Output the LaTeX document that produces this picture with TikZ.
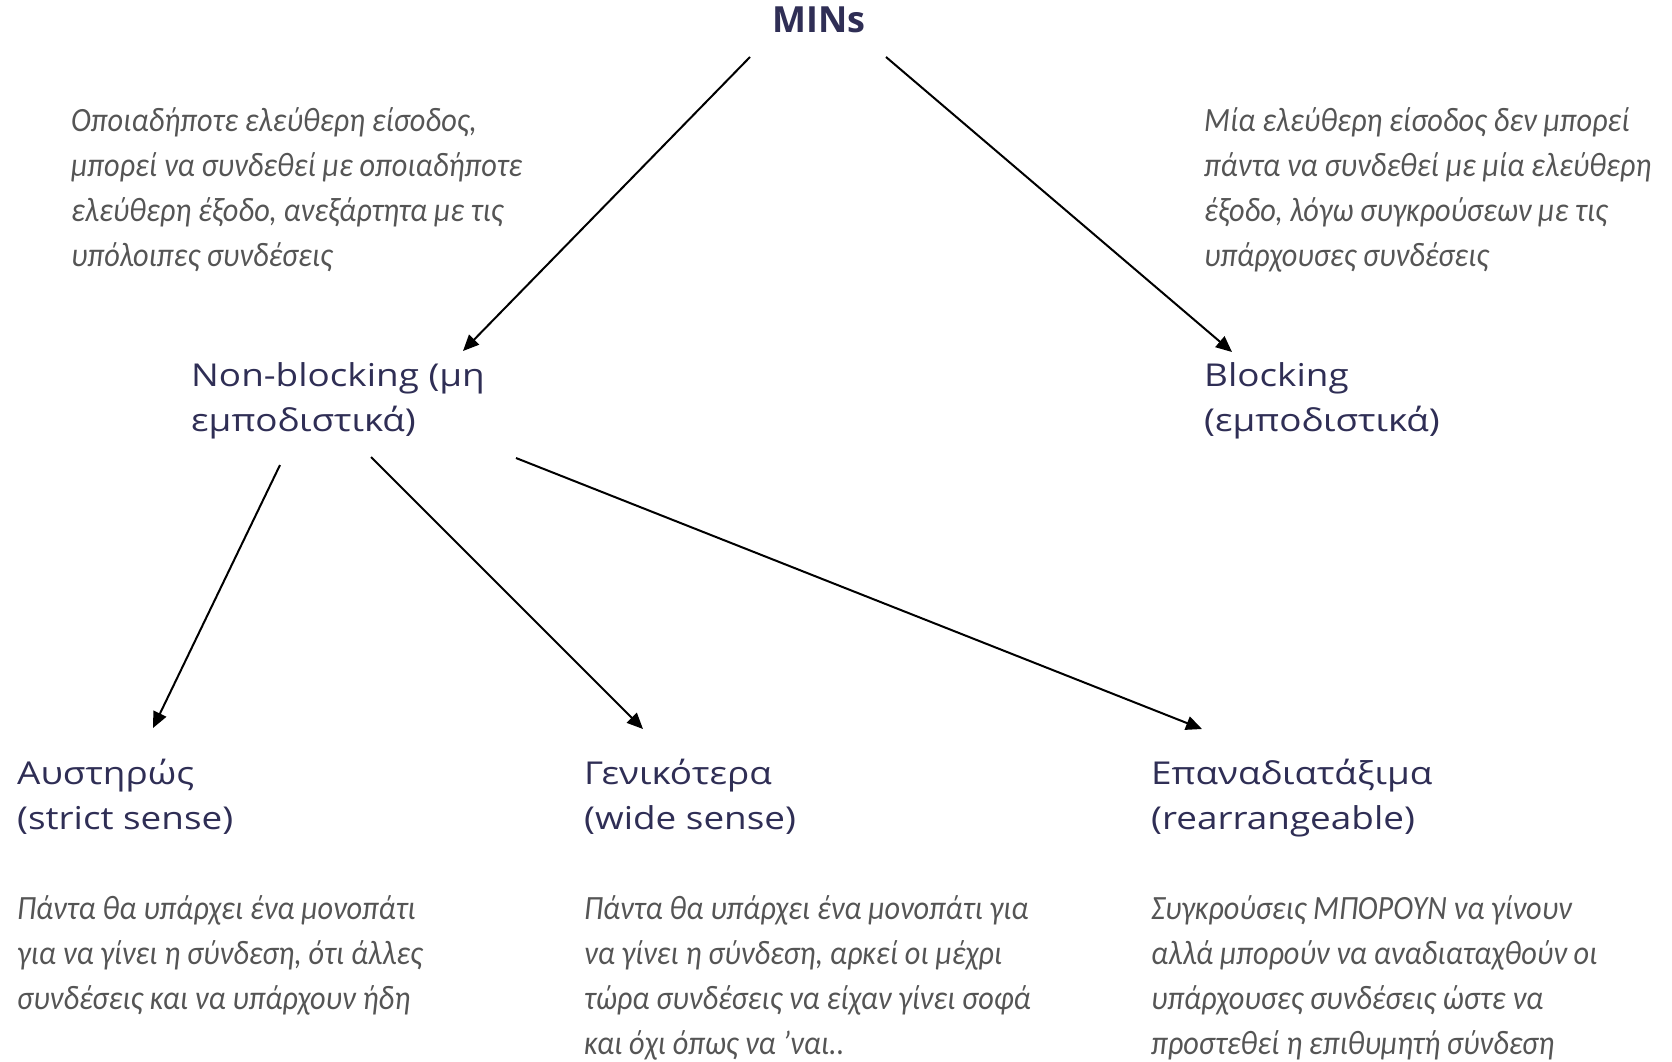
\documentclass[tikz,border=0pt]{standalone}
\usepackage{fontspec}
\usetikzlibrary{arrows.meta}
\newfontfamily\headfont[FakeStretch=1.17]{Open Sans}
\newfontfamily\minsfont{Open Sans}
\newfontfamily\bodyfont[FakeStretch=0.89]{Carlito}
\definecolor{headcol}{HTML}{2F2E55}
\definecolor{bodycol}{HTML}{555555}
\newcommand\mylines[1]{\begin{tabular}[t]{@{}l@{}}#1\end{tabular}}
\tikzset{
  headtxt/.style={anchor=base west, inner sep=0pt, text=headcol,
    font=\headfont\fontsize{31.5}{45}\selectfont},
  bodytxt/.style={anchor=base west, inner sep=0pt, text=bodycol,
    font=\bodyfont\itshape\fontsize{34}{45}\selectfont},
  conn/.style={line width=2pt, -{Triangle[length=16pt,width=14pt]}}
}
\begin{document}
\begin{tikzpicture}[x=1pt,y=-1pt]
\useasboundingbox (0,0) rectangle (1672,1061);
\node[anchor=base, inner sep=0pt, text=headcol, font=\minsfont\bfseries\fontsize{36}{40}\selectfont] (mins) at (819,32) {MINs};
\node[headtxt] (nb) at (191,386) {\mylines{Non-blocking (μη\\εμποδιστικά)}};
\node[headtxt] (bl) at (1204,386) {\mylines{Blocking\\(εμποδιστικά)}};
\node[headtxt] (ss) at (17,784) {\mylines{Αυστηρώς\\(strict sense)}};
\node[headtxt] (ws) at (584,784) {\mylines{Γενικότερα\\(wide sense)}};
\node[headtxt] (re) at (1151,784) {\mylines{Επαναδιατάξιμα\\(rearrangeable)}};

\node[bodytxt] (nbd) at (71,131) {\mylines{Οποιαδήποτε ελεύθερη είσοδος,\\μπορεί να συνδεθεί με οποιαδήποτε\\ελεύθερη έξοδο, ανεξάρτητα με τις\\υπόλοιπες συνδέσεις}};
\node[bodytxt] (bld) at (1204,131) {\mylines{Μία ελεύθερη είσοδος δεν μπορεί\\πάντα να συνδεθεί με μία ελεύθερη\\έξοδο, λόγω συγκρούσεων με τις\\υπάρχουσες συνδέσεις}};
\node[bodytxt] (ssd) at (17,919) {\mylines{Πάντα θα υπάρχει ένα μονοπάτι\\για να γίνει η σύνδεση, ότι άλλες\\συνδέσεις και να υπάρχουν ήδη}};
\node[bodytxt] (wsd) at (584,919) {\mylines{Πάντα θα υπάρχει ένα μονοπάτι για\\να γίνει η σύνδεση, αρκεί οι μέχρι\\τώρα συνδέσεις να είχαν γίνει σοφά\\και όχι όπως να ’ναι..}};
\node[bodytxt] (red) at (1151,919) {\mylines{Συγκρούσεις ΜΠΟΡΟΥΝ να γίνουν\\αλλά μπορούν να αναδιαταχθούν οι\\υπάρχουσες συνδέσεις ώστε να\\προστεθεί η επιθυμητή σύνδεση}};

\coordinate (m1) at (750,57);
\coordinate (m2) at (886,57);
\coordinate (nbin) at (463,351);
\coordinate (blin) at (1232,352);
\coordinate (nb1) at (280,465);
\coordinate (nb2) at (371,457);
\coordinate (nb3) at (516,458);
\coordinate (ssin) at (153,728);
\coordinate (wsin) at (643,729);
\coordinate (rein) at (1202,729);

\draw[conn] (m1) -- (nbin);
\draw[conn] (m2) -- (blin);
\draw[conn] (nb1) -- (ssin);
\draw[conn] (nb2) -- (wsin);
\draw[conn] (nb3) -- (rein);
\end{tikzpicture}
\end{document}
